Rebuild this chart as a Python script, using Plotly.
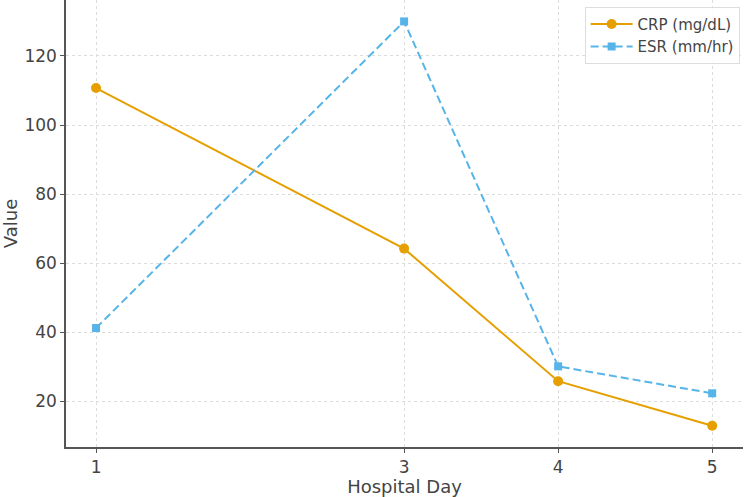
import plotly.graph_objects as go

days = [1, 3, 4, 5]
crp = [110.7, 64.2, 25.8, 12.9]
esr = [41.2, 130.0, 30.1, 22.3]
x_ticks = [1, 3, 4, 5]
y_ticks = [20, 40, 60, 80, 100, 120]

fig = go.Figure()
fig.add_trace(go.Scatter(
    x=days, y=crp, mode="lines+markers", name="CRP (mg/dL)",
    line=dict(color="#E69F00", width=2),
    marker=dict(symbol="circle", size=10, color="#E69F00"),
))
fig.add_trace(go.Scatter(
    x=days, y=esr, mode="lines+markers", name="ESR (mm/hr)",
    line=dict(color="#56B4E9", width=2, dash="8px,4px"),
    marker=dict(symbol="square", size=8, color="#56B4E9"),
))

tick_font = dict(family="DejaVu Sans", size=17, color="#444444")
title_font = dict(family="DejaVu Sans", size=18, color="#444444")
fig.update_layout(
    width=750, height=497,
    margin=dict(l=66, r=7, t=0, b=50),
    paper_bgcolor="white", plot_bgcolor="white",
    font=dict(family="DejaVu Sans", color="#444444"),
    showlegend=True,
    legend=dict(
        x=0.995, y=0.985, xanchor="right", yanchor="top",
        bgcolor="rgba(255,255,255,0.9)", bordercolor="#dddddd", borderwidth=1,
        font=dict(family="DejaVu Sans", size=15, color="#444444"),
        itemwidth=42, tracegroupgap=0,
    ),
    xaxis=dict(
        range=[0.805, 5.2], tickmode="array", tickvals=x_ticks,
        ticktext=[str(t) for t in x_ticks],
        showline=True, linecolor="#555555", linewidth=1.5,
        ticks="outside", ticklen=4, tickcolor="#555555",
        showgrid=True, gridcolor="#dcdcdc", griddash="dot", gridwidth=1,
        zeroline=False, tickfont=tick_font, automargin=False,
        title=dict(text="Hospital Day", font=title_font, standoff=0),
    ),
    yaxis=dict(
        range=[6.75, 136.2], tickmode="array", tickvals=y_ticks,
        showline=True, linecolor="#555555", linewidth=1.5,
        ticks="outside", ticklen=4, tickcolor="#555555",
        showgrid=True, gridcolor="#dcdcdc", griddash="dot", gridwidth=1,
        zeroline=False, tickfont=tick_font, automargin=False,
        title=dict(text="Value", font=title_font, standoff=2),
    ),
)

fig.write_html("out.html")
